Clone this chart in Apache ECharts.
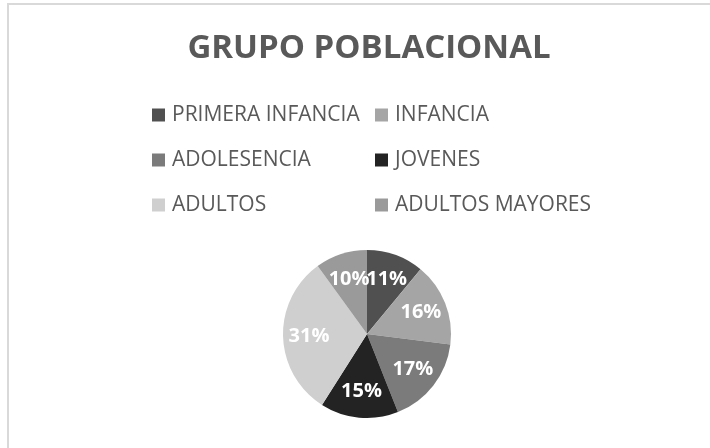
<!DOCTYPE html>
<html>
<head>
<meta charset="utf-8">
<script src="https://cdn.jsdelivr.net/npm/echarts@6/dist/echarts.min.js"></script>
<style>
  html, body { margin: 0; padding: 0; background: #fff; }
  #chart { width: 710px; height: 448px; }
</style>
</head>
<body>
<div id="chart"></div>
<script>
// datos
const groups = ['PRIMERA INFANCIA', 'INFANCIA', 'ADOLESENCIA', 'JOVENES', 'ADULTOS', 'ADULTOS MAYORES'];
const shares = [11, 16, 17, 15, 31, 10];
const colors = ['#505050', '#a5a5a5', '#7b7b7b', '#232323', '#cfcfcf', '#9a9a9a'];
// columnas de la leyenda
const legendLeft = ['PRIMERA INFANCIA', 'ADOLESENCIA', 'ADULTOS'];
const legendRight = ['INFANCIA', 'JOVENES', 'ADULTOS MAYORES'];

const myChart = echarts.init(document.getElementById('chart'));

const pieData = groups.map((name, i) => ({ name, value: shares[i] }));

//leyenda comun
const legendBase = {
  orient: 'vertical',
  top: 98,
  itemWidth: 13,
  itemHeight: 13,
  itemGap: 21,
  icon: 'rect',
  selectedMode: false,
  textStyle: { fontFamily: 'Open Sans', fontSize: 21, color: '#595959', padding: [0, 0, 0, 2], lineHeight: 24 }
};

myChart.setOption({
  color: colors,
  animation: false,
  title: {
    text: 'GRUPO POBLACIONAL',
    left: 364,
    top: 27,
    textAlign: 'center',
    textStyle: { fontFamily: 'Open Sans', fontWeight: 'bold', fontSize: 33, color: '#595959' }
  },
  legend: [
    Object.assign({}, legendBase, { left: 147, data: legendLeft }),
    Object.assign({}, legendBase, { left: 370, data: legendRight })
  ],
  graphic: [{
    type: 'rect',
    shape: { x: 8, y: 4, width: 900, height: 600 },
    style: { fill: 'none', stroke: '#d9d9d9', lineWidth: 2 },
    silent: true
  }],
  series: [
    {
      type: 'pie',
      center: [367, 334],
      radius: [0, 84],
      startAngle: 90,
      clockwise: true,
      label: { show: false },
      labelLine: { show: false },
      data: pieData
    },
    {
      //solo etiquetas
      type: 'pie',
      center: [367, 334],
      radius: [26, 84],
      startAngle: 90,
      clockwise: true,
      silent: true,
      avoidLabelOverlap: false,
      labelLayout: { hideOverlap: false },
      itemStyle: { color: 'rgba(0,0,0,0)' },
      label: {
        show: true,
        position: 'inside',
        formatter: '{c}%',
        fontFamily: 'Open Sans',
        fontWeight: 'bold',
        fontSize: 20,
        color: '#fff'
      },
      labelLine: { show: false },
      data: pieData
    }
  ]
});
</script>
</body>
</html>
